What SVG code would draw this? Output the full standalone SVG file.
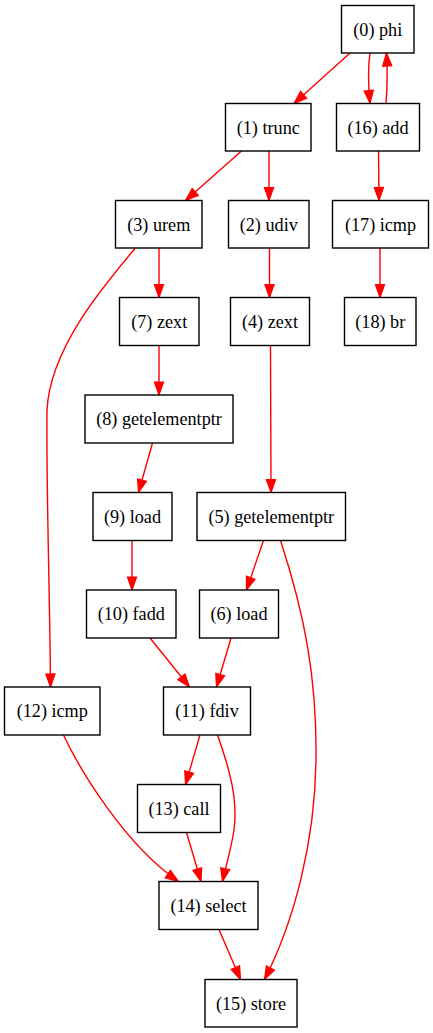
<svg xmlns="http://www.w3.org/2000/svg" width="433" height="1033" viewBox="0 0 433 1033">
<style>
.n rect{fill:#fff;stroke:#000;stroke-width:1.4}
.n text{font-family:"Liberation Serif","Times New Roman",serif;font-size:18.2px;text-anchor:middle;fill:#000}
.e path{fill:none;stroke:#ff0000;stroke-width:1.4;marker-end:url(#a)}
</style>
<defs>
<marker id="a" markerUnits="userSpaceOnUse" markerWidth="14" markerHeight="10" refX="13" refY="4.6" orient="auto" overflow="visible">
<path d="M0,0 L13,4.6 L0,9.2 z" fill="#ff0000" stroke="#ff0000" stroke-width="1.2"/>
</marker>
</defs>
<rect width="433" height="1033" fill="#fff"/>
<g class="e" id="edges">
<path d="M350,53 L294,103.5"/>
<path d="M370,53 C368,66 368,82 370,103.5"/>
<path d="M386,103.5 C387.5,86 387.5,70 386.5,53"/>
<path d="M241.5,151 L185.5,200.5"/>
<path d="M269,151 L269,200.5"/>
<path d="M378.5,151 L379,200.5"/>
<path d="M269.5,248 L269.5,297.5"/>
<path d="M159,248 L159,297.5"/>
<path d="M380,248 L380,297.5"/>
<path d="M159,345.5 L159,395"/>
<path d="M270.5,345.5 L271,492.5"/>
<path d="M152.5,443 L138.5,492.5"/>
<path d="M132,540.5 L132,590"/>
<path d="M263.5,540.5 L246.5,590"/>
<path d="M135,248.5 C100,290 50,350 47,410 C46,480 50,600 50.5,687"/>
<path d="M150,638 L189.5,687"/>
<path d="M231,638 L216.5,687"/>
<path d="M200,735 L185.5,784.5"/>
<path d="M217.5,735 C230,770 238,800 234,830 C231,850 226,865 222.5,881.5"/>
<path d="M63.5,735 C80,770 125,845 178.5,881.5"/>
<path d="M186.5,832.5 L201,881.5"/>
<path d="M219,929.5 L240.5,979.5"/>
<path d="M280.5,540.5 C305,615 317,680 316,760 C315,840 295,920 264.5,979.5"/>
</g>
<g class="n" id="n0"><rect x="341.5" y="5.5" width="72.5" height="47.5"/><text x="377.75" y="35.5">(0) phi</text></g>
<g class="n" id="n1"><rect x="225.5" y="103.5" width="85.5" height="47.5"/><text x="268.25" y="133.5">(1) trunc</text></g>
<g class="n" id="n16"><rect x="336.5" y="103.5" width="83" height="47.5"/><text x="378" y="133.5">(16) add</text></g>
<g class="n" id="n3"><rect x="115.5" y="200.5" width="86.5" height="47.5"/><text x="158.75" y="230.5">(3) urem</text></g>
<g class="n" id="n2"><rect x="228.5" y="200.5" width="80.5" height="47.5"/><text x="268.75" y="230.5">(2) udiv</text></g>
<g class="n" id="n17"><rect x="332.5" y="200.5" width="96" height="47.5"/><text x="380.5" y="230.5">(17) icmp</text></g>
<g class="n" id="n7"><rect x="119.5" y="297.5" width="79.5" height="48"/><text x="159.25" y="327.5">(7) zext</text></g>
<g class="n" id="n4"><rect x="230.5" y="297.5" width="79" height="48"/><text x="270" y="327.5">(4) zext</text></g>
<g class="n" id="n18"><rect x="344.5" y="297.5" width="71.5" height="48"/><text x="380.25" y="327.5">(18) br</text></g>
<g class="n" id="n8"><rect x="85" y="395" width="148" height="48"/><text x="159" y="425">(8) getelementptr</text></g>
<g class="n" id="n9"><rect x="93" y="492.5" width="79" height="48"/><text x="132.5" y="522.5">(9) load</text></g>
<g class="n" id="n5"><rect x="197" y="492.5" width="148.5" height="48"/><text x="271.25" y="522.5">(5) getelementptr</text></g>
<g class="n" id="n10"><rect x="86.5" y="590" width="89.5" height="48"/><text x="131.25" y="620">(10) fadd</text></g>
<g class="n" id="n6"><rect x="199.5" y="590" width="79" height="48"/><text x="239" y="620">(6) load</text></g>
<g class="n" id="n12"><rect x="4.5" y="687" width="95.5" height="48"/><text x="52.25" y="717">(12) icmp</text></g>
<g class="n" id="n11"><rect x="163.5" y="687" width="87" height="48"/><text x="207" y="717">(11) fdiv</text></g>
<g class="n" id="n13"><rect x="137.5" y="784.5" width="83" height="48"/><text x="179" y="814.5">(13) call</text></g>
<g class="n" id="n14"><rect x="159" y="881.5" width="99" height="48"/><text x="208.5" y="911.5">(14) select</text></g>
<g class="n" id="n15"><rect x="205" y="979.5" width="92" height="47.5"/><text x="251" y="1009.5">(15) store</text></g>
</svg>
